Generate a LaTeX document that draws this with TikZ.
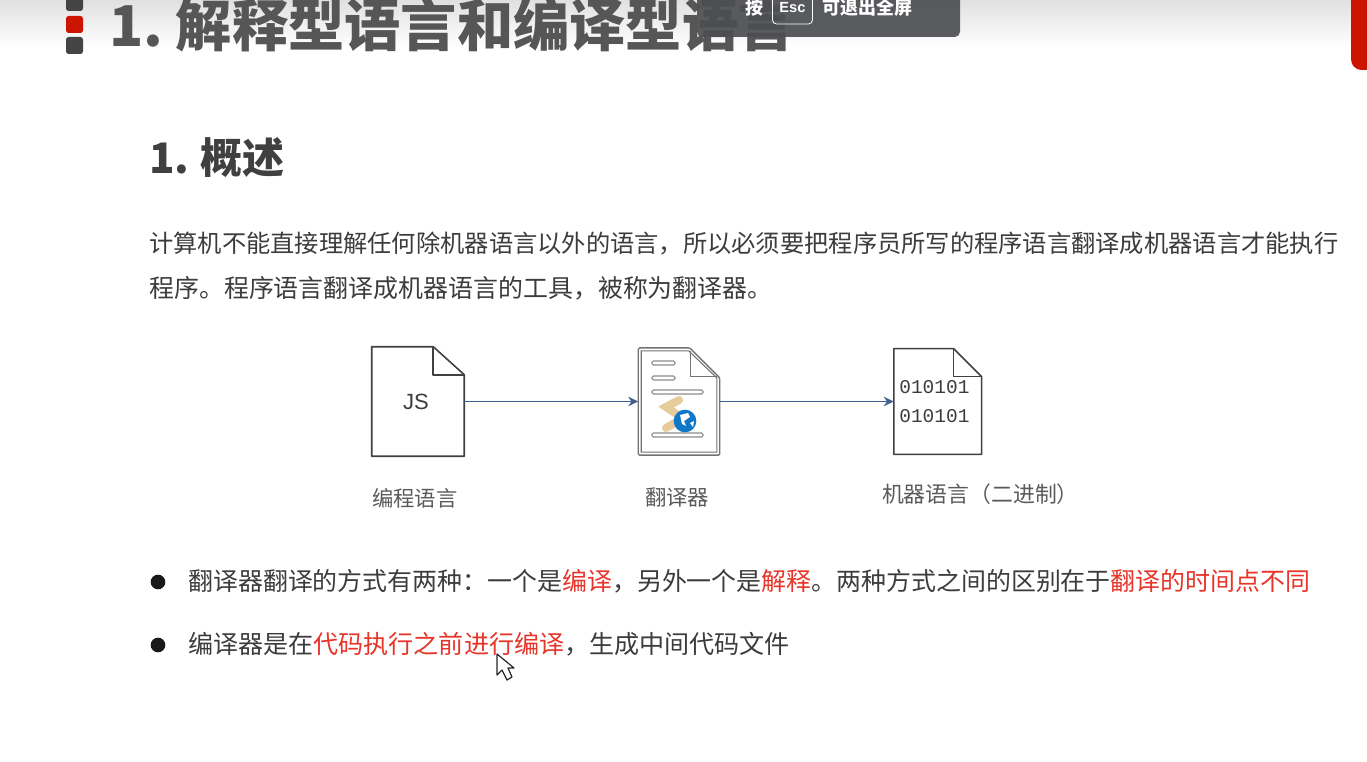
\documentclass[tikz,border=0pt]{standalone}
\usepackage{fontspec}
\usepackage{xcolor}
\usetikzlibrary{positioning, calc, arrows.meta}
\setmainfont{Noto Sans CJK SC}
\newfontfamily\latinfont{Liberation Sans}
\newfontfamily\bitsfont{Liberation Mono}
\definecolor{bodygray}{HTML}{3C3C3C}
\definecolor{labelgray}{HTML}{5A5A5A}
\definecolor{titlegray}{HTML}{565656}
\definecolor{keyred}{HTML}{E8352A}
\definecolor{tabred}{HTML}{CC1500}
\definecolor{arrowblue}{HTML}{3F5F8F}
\definecolor{barblack}{HTML}{444444}
\definecolor{hintgray}{HTML}{4C4E52}
\definecolor{chaintan}{HTML}{E6CC9A}
\definecolor{globeblue}{HTML}{0F78C8}
\newcommand{\hot}[1]{\textcolor{keyred}{#1}}
% outline of a page with one folded corner
\newcommand{\pageoutline}[3]{
    \draw[pageline] (#1.north west) -- ($(#1.north east)+(-#2,0)$) -- ($(#1.north east)+(0,#3)$)
        -- (#1.south east) -- (#1.south west) -- cycle;
    \draw[pageline] ($(#1.north east)+(-#2,0)$) -- ($(#1.north east)+(-#2,#3)$) -- ($(#1.north east)+(0,#3)$);
}
\tikzset{
    pagebox/.style={ % Empty page, the outline comes from \pageoutline
        inner sep=0pt, font=\latinfont\fontsize{16.5}{20}\selectfont, text=bodygray
    },
    pageline/.style={draw=black!75, line width=1.2pt, line join=round},
    flow/.style={ % Blue arrows between the pages
        draw=arrowblue, line width=1.4pt, -{Stealth[length=7.5pt,width=7pt]}
    },
    pagelabel/.style={
        inner sep=0pt, text=labelgray, font=\fontsize{16}{19}\selectfont
    },
    bodyline/.style={
        anchor=base west, inner sep=0pt, text=bodygray, font=\fontsize{18.7}{22}\selectfont
    },
    bulletline/.style={
        anchor=base west, inner sep=0pt, text=bodygray, font=\fontsize{18.7}{22}\selectfont
    },
    bulletdot/.style={circle, fill=black!90, inner sep=0pt, minimum size=11pt},
    barmark/.style={rounded corners=2pt, fill=barblack},
    iconbar/.style={draw=black!45, fill=white, line width=.8pt, rounded corners=1pt},
    hinttext/.style={inner sep=0pt, text=white, font=\bfseries\fontsize{13.5}{16}\selectfont}
}
\begin{document}
\begin{tikzpicture}[x=0.75pt, y=-0.75pt]
    \useasboundingbox (0,0) rectangle (1367,762);
    \fill[white] (0,0) rectangle (1367,762);
    \shade[top color=black!12, bottom color=white] (0,0) rectangle (1367,48);
    % title bar
    \fill[barmark] (66,-6) rectangle (83,11);
    \fill[barmark, fill=tabred] (66,16) rectangle (83,33);
    \fill[barmark] (66,37) rectangle (83,54);
    \fill[tabred, rounded corners=8pt] (1351,-20) rectangle (1380,70);
    \node[anchor=base west, inner sep=0pt, text=titlegray, font=\bfseries\fontsize{42.2}{50}\selectfont] (title) at (109,47) {1.\hspace{-3.5pt} 解释型语言和编译型语言};
    % fullscreen hint
    \fill[hintgray, fill opacity=.92, rounded corners=4pt] (697,-10) rectangle (960,37);
    \node[hinttext, anchor=west] (hintpress) at (745,8) {按};
    \node[draw=white, rounded corners=3pt, line width=.6pt, inner sep=0pt, minimum width=30pt, minimum height=24pt, text=white, font=\latinfont\bfseries\fontsize{11}{13}\selectfont] (hintkey) at (792.5,8) {Esc};
    \node[hinttext, anchor=west] (hintrest) at (822,8) {可退出全屏};
    % text above the diagram
    \node[anchor=base west, inner sep=0pt, text=black!75, font=\bfseries\fontsize{31.5}{38}\selectfont] (head) at (149,174) {1.\hspace{-1.5pt} 概述};
    \node[bodyline, font=\fontsize{18.2}{22}\selectfont] (line1) at (149,253) {计算机不能直接理解任何除机器语言以外的语言^^^^ff0c所以必须要把程序员所写的程序语言翻译成机器语言才能执行};
    \node[bodyline] (line2) at (149,298) {程序。程序语言翻译成机器语言的工具^^^^ff0c被称为翻译器。};
    % diagram
    \node[pagebox, minimum width=69pt, minimum height=81.75pt] (source) at (418,401.5) {\hspace{-3pt}JS};
    \node[pagebox, minimum width=60.75pt, minimum height=80pt, right=130.5pt of source] (translator) {};
    \node[pagebox, minimum width=65.5pt, minimum height=79pt, right=130.5pt of translator, font=\bitsfont\fontsize{14.6}{22}\selectfont, align=center] (machine) {010101\hspace*{5pt}\\010101\hspace*{5pt}};
    \pageoutline{source}{31}{28}
    \pageoutline{machine}{28}{28}
    % the translator icon
    \draw[iconbar, fill=white, line width=1pt, draw=black!55] (translator.north west) -- ($(translator.north east)+(-30,0)$) -- ($(translator.north east)+(0,30)$) -- (translator.south east) -- (translator.south west) -- cycle;
    \draw[draw=black!55, line width=.8pt] ($(translator.north west)+(3,3)$) -- ($(translator.north east)+(-31,3)$) -- ($(translator.north east)+(-3,30)$) -- ($(translator.south east)+(-3,-3)$) -- ($(translator.south west)+(3,-3)$) -- cycle;
    \draw[draw=black!55, line width=.8pt] ($(translator.north east)+(-29,3)$) -- ($(translator.north east)+(-29,29)$) -- ($(translator.north east)+(-3,29)$);
    \draw[iconbar] (652,361) rectangle (675,365);
    \draw[iconbar] (652,376) rectangle (675,380);
    \draw[iconbar] (652,390) rectangle (703,394);
    \draw[iconbar] (652,433) rectangle (703,437);
    \draw[line width=6pt, chaintan, line cap=round] (679,400) -- (666,407) -- (684,419) (678,421) -- (666,428);
    \fill[globeblue] (685,421) circle (8.5pt);
    \fill[white] (680,415) -- (688,413) -- (690,417) -- (684,421) -- (686,426) -- (682,424) -- cycle;
    \fill[white] (690,423) -- (694,421) -- (693,427) -- cycle;
    % arrows between the pages
    \draw[flow] (source) -- (translator);
    \draw[flow] (translator) -- (machine);
    \node[pagelabel, below=24pt of source, xshift=-2.5pt] (sourcetag) {编程语言};
    \node[pagelabel, below=24pt of translator, xshift=-1.5pt] (translatortag) {翻译器};
    \node[pagelabel, below=21.5pt of machine, xshift=32pt, font=\fontsize{16.4}{19}\selectfont] (machinetag) {机器语言^^^^ff08二进制^^^^ff09};
    % bullets
    \node[bulletdot] (dot1) at (158,582) {};
    \node[bulletline] (bullet1) at (188,590) {翻译器翻译的方式有两种^^^^ff1a一个是\hot{编译}^^^^ff0c另外一个是\hot{解释}。两种方式之间的区别在于\hot{翻译的时间点不同}};
    \node[bulletdot] (dot2) at (158,645) {};
    \node[bulletline, font=\fontsize{18.8}{22}\selectfont] (bullet2) at (188,653) {编译器是在\hot{代码执行之前进行编译}^^^^ff0c生成中间代码文件};
    % mouse pointer
    \draw[fill=white, draw=black!85, line width=.9pt, line join=round] (497,654) -- (497,675) -- (502,670) -- (507,680) -- (512,677) -- (508,668) -- (514,668) -- cycle;
\end{tikzpicture}
\end{document}
